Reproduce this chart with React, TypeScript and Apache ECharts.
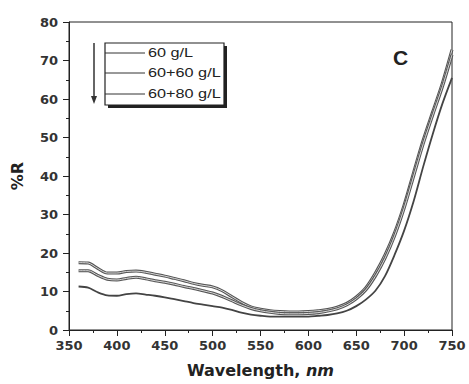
import React, { useEffect, useRef } from "react";
import * as echarts from "echarts";

const wavelengths = [
  360, 370, 380, 390, 400, 410, 420, 430, 440, 450, 460, 470, 480, 490, 500,
  510, 520, 530, 540, 550, 560, 570, 580, 590, 600, 610, 620, 630, 640, 650,
  660, 670, 680, 690, 700, 710, 720, 730, 740, 750,
];

const seriesNames = ["60 g/L", "60+60 g/L", "60+80 g/L"];

const r60 = [
  17.5, 17.4, 16.0, 14.8, 14.8, 15.2, 15.3, 15.0, 14.5, 14.0, 13.4, 12.8, 12.1,
  11.6, 11.2, 10.2, 8.7, 7.2, 6.0, 5.4, 5.0, 4.8, 4.7, 4.7, 4.8, 5.0, 5.3, 5.9,
  6.9, 8.6, 11.0, 14.8, 19.5, 25.3, 32.5, 41.0, 49.4, 56.8, 64.2, 72.8,
];

const r60_60 = [
  15.4, 15.4, 14.2, 13.2, 13.0, 13.4, 13.7, 13.3, 12.8, 12.4, 11.9, 11.3, 10.8,
  10.2, 9.6, 8.7, 7.6, 6.5, 5.6, 5.0, 4.6, 4.3, 4.2, 4.2, 4.3, 4.5, 4.9, 5.5,
  6.5, 8.1, 10.4, 14.0, 18.6, 24.4, 31.6, 40.0, 48.4, 55.9, 63.2, 71.5,
];

const r60_80 = [
  11.3, 11.0, 9.8, 9.0, 8.9, 9.3, 9.5, 9.2, 8.9, 8.5, 8.0, 7.5, 7.0, 6.6, 6.2,
  5.8, 5.2, 4.5, 4.0, 3.7, 3.5, 3.5, 3.5, 3.5, 3.5, 3.7, 3.9, 4.3, 5.0, 6.2,
  7.9, 10.2, 14.0, 19.5, 25.8, 33.5, 42.5, 51.0, 58.8, 65.5,
];

const xTicks = { min: 350, max: 750, interval: 50 };
const yTicks = { min: 0, max: 80, interval: 10 };

const FONT = "'Liberation Sans', Arial, Helvetica, sans-serif";
const WIDE = "'DejaVu Sans', Verdana, sans-serif";

export default function App() {
  const ref = useRef<HTMLDivElement>(null);

  useEffect(() => {
    if (!ref.current) return;
    const chart = echarts.init(ref.current, undefined, { renderer: "svg" });
    const pairs = (vals: number[]) => wavelengths.map((w, i) => [w, vals[i]]);

    const hollow = (name: string, vals: number[], z: number) => [
      {
        name,
        type: "line",
        data: pairs(vals),
        smooth: 0.3,
        symbol: "none",
        z,
        lineStyle: { color: "#555", width: 3 },
      },
      {
        name: name + " inner",
        type: "line",
        data: pairs(vals),
        smooth: 0.3,
        symbol: "none",
        z: z + 1,
        lineStyle: { color: "#d8d8d8", width: 1 },
      },
    ];

    chart.setOption({
      animation: false,
      backgroundColor: "#fff",
      grid: {
        left: 69,
        right: 17,
        top: 22,
        bottom: 54,
        show: true,
        borderColor: "#222",
        borderWidth: 1,
        backgroundColor: "transparent",
      },
      xAxis: {
        type: "value",
        min: xTicks.min,
        max: xTicks.max,
        interval: xTicks.interval,
        name: "{b|Wavelength, }{i|nm}",
        nameLocation: "middle",
        nameGap: 32,
        nameTextStyle: {
          rich: {
            b: { fontFamily: WIDE, fontWeight: "bold", fontSize: 16, color: "#222" },
            i: {
              fontFamily: WIDE,
              fontWeight: "bold",
              fontStyle: "italic",
              fontSize: 16,
              color: "#222",
            },
          },
        },
        axisLine: { show: true, lineStyle: { color: "#222", width: 1 } },
        axisTick: { show: true, inside: false, length: 6, lineStyle: { color: "#222" } },
        minorTick: { show: true, splitNumber: 2, length: 3, lineStyle: { color: "#222" } },
        splitLine: { show: false },
        axisLabel: {
          margin: 9,
          fontFamily: WIDE,
          fontWeight: "bold",
          fontSize: 13,
          color: "#333",
        },
      },
      yAxis: {
        type: "value",
        min: yTicks.min,
        max: yTicks.max,
        interval: yTicks.interval,
        name: "%R",
        nameLocation: "middle",
        nameGap: 44,
        nameRotate: 90,
        nameTextStyle: {
          fontFamily: WIDE,
          fontWeight: "bold",
          fontSize: 16,
          color: "#222",
        },
        axisLine: { show: true, lineStyle: { color: "#222", width: 1 } },
        axisTick: { show: true, inside: false, length: 6, lineStyle: { color: "#222" } },
        minorTick: { show: true, splitNumber: 2, length: 3, lineStyle: { color: "#222" } },
        splitLine: { show: false },
        axisLabel: {
          margin: 11,
          fontFamily: WIDE,
          fontWeight: "bold",
          fontSize: 13,
          color: "#333",
        },
      },
      series: [
        ...hollow(seriesNames[0], r60, 3),
        ...hollow(seriesNames[1], r60_60, 5),
        {
          name: seriesNames[2],
          type: "line",
          data: pairs(r60_80),
          smooth: 0.3,
          symbol: "none",
          z: 7,
          lineStyle: { color: "#444", width: 1.8 },
        },
      ],
      graphic: [
        {
          type: "text",
          x: 400.5,
          y: 57,
          style: {
            text: "C",
            fontFamily: FONT,
            fontWeight: "bold",
            fontSize: 21,
            fill: "#222",
            align: "center",
            verticalAlign: "middle",
          },
        },
        {
          type: "rect",
          shape: { x: 108, y: 46, width: 119, height: 62 },
          style: { fill: "#222" },
        },
        {
          type: "rect",
          shape: { x: 105, y: 43, width: 119, height: 62 },
          style: { fill: "#fff", stroke: "#222", lineWidth: 1.2 },
        },
        ...seriesNames.flatMap((n, i) => {
          const y = [53, 73, 94][i];
          return [
            {
              type: "line",
              shape: { x1: 105, y1: y, x2: 145, y2: y },
              style: { stroke: "#333", lineWidth: 1 },
            },
            {
              type: "text",
              x: 148,
              y: y,
              scaleX: 1.3,
              style: {
                text: n,
                fontFamily: FONT,
                fontSize: 12.5,
                fill: "#222",
                verticalAlign: "middle",
              },
            },
          ];
        }),
        {
          type: "line",
          shape: { x1: 94, y1: 43, x2: 94, y2: 98 },
          style: { stroke: "#333", lineWidth: 1.5 },
        },
        {
          type: "polygon",
          shape: { points: [[91, 96], [97, 96], [94, 104]] },
          style: { fill: "#333" },
        },
      ],
    });
    return () => chart.dispose();
  }, []);

  return <div ref={ref} style={{ width: 469, height: 384, position: "absolute", left: 0, top: 0 }} />;
}
